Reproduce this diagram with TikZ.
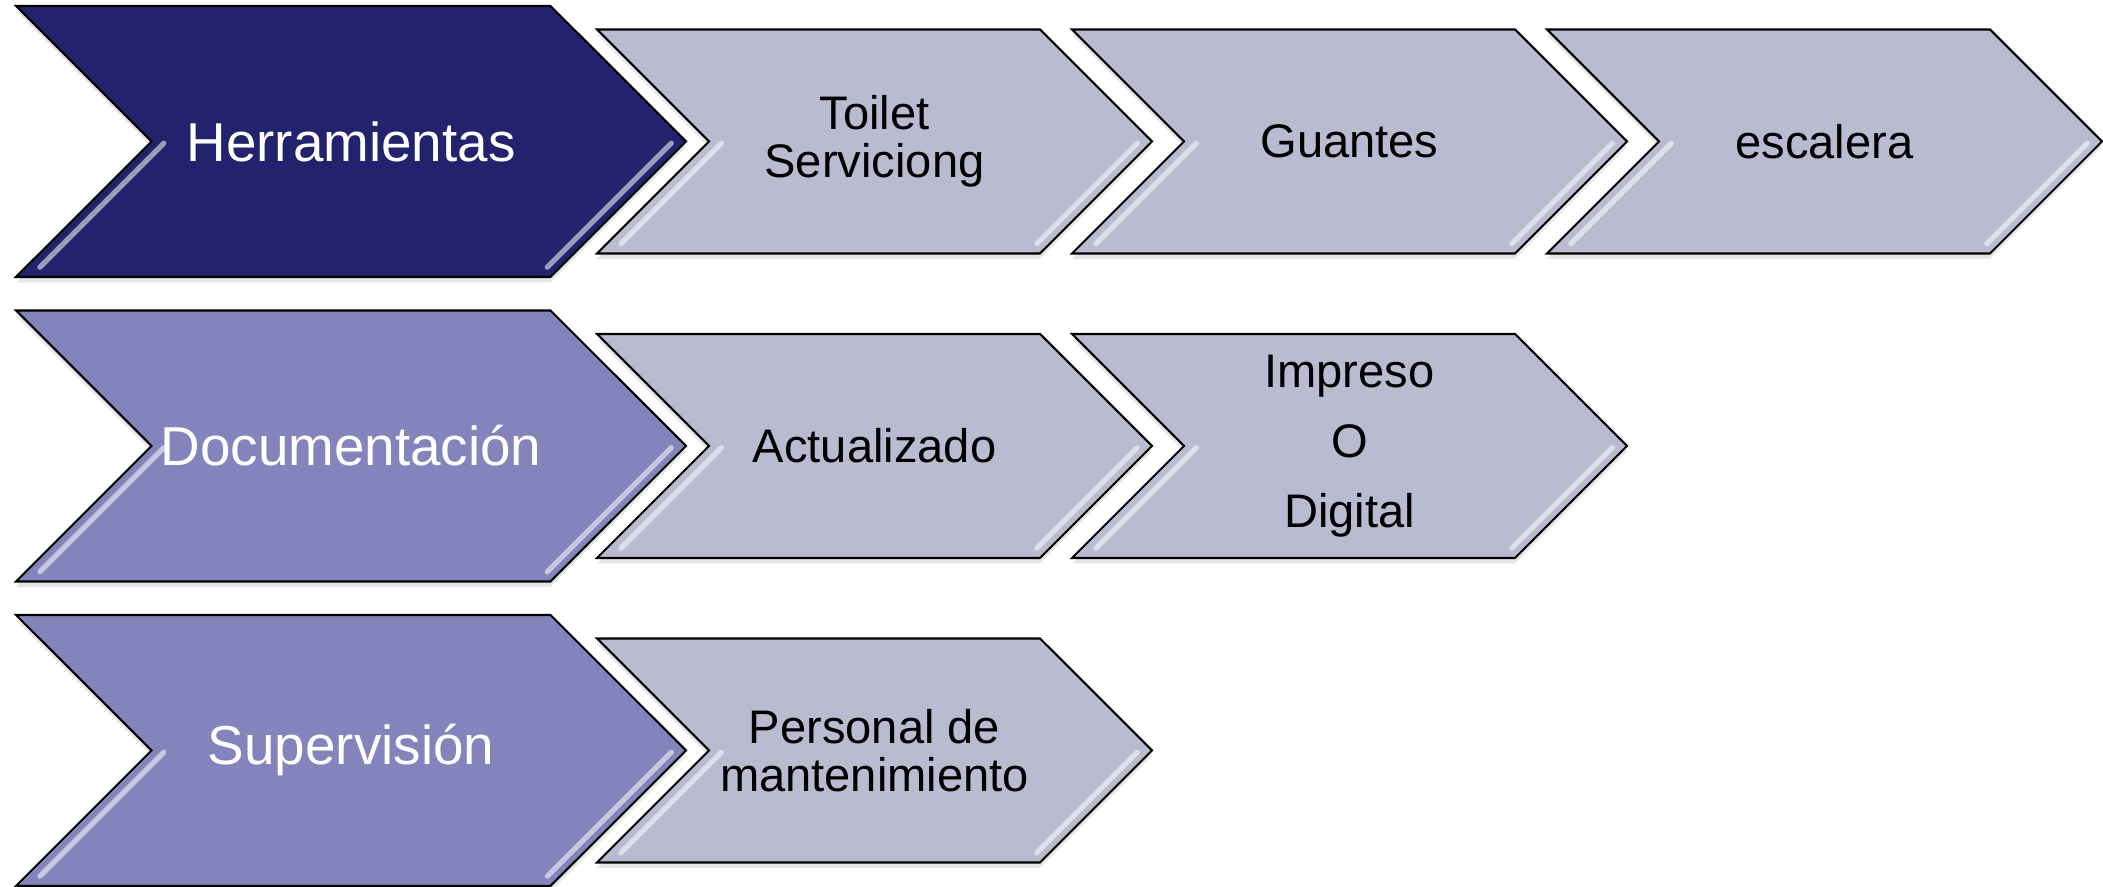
\documentclass[tikz,border=0pt]{standalone}
\usepackage{fontspec}
\setmainfont{Liberation Sans}
\usetikzlibrary{positioning}
\usetikzlibrary{calc}
\usetikzlibrary{shapes.symbols}
\usetikzlibrary{shadows}

\definecolor{Navy}{RGB}{35,34,108}
\definecolor{Lilac}{RGB}{132,132,188}
\definecolor{Mist}{RGB}{186,186,208}

\tikzset{
	shine/.style={draw=white, draw opacity=0.55, line width=1.5pt, line cap=round},
	chevron/.style={
		on grid,
		signal,
		signal from=west,
		signal to=east,
		draw,
		line width=0.6pt,
		inner sep=0pt,
		align=center,
		drop shadow={shadow xshift=0pt, shadow yshift=-1.5pt, opacity=0.2},
		path picture={
			\draw[shine] let \p1=(path picture bounding box.south west),
				\p2=(path picture bounding box.north east),
				\n1={0.5*(\y2-\y1)} in
				(\x1+6.8pt,\y1+2.8pt) -- (\x1+\n1+3.5pt,\y1+\n1-0.5pt)
				(\x2-\n1-0.9pt,\y1+2.8pt) -- (\x2-4.2pt,\y1+\n1-0.5pt);
		}
	},
	topic/.style={
		chevron,
		minimum width=6.70cm,
		minimum height=2.71cm,
		text=white,
		font=\fontsize{15.6}{18}\selectfont
	},
	item/.style={
		chevron,
		fill=Mist,
		minimum width=5.55cm,
		minimum height=2.24cm,
		font=\fontsize{13.4}{13.8}\selectfont
	}
}

\begin{document}
\begin{tikzpicture}

\useasboundingbox (0,0) rectangle (21.03,-8.87);

% first row
\node[topic, fill=Navy] (tools) at (3.51,-1.415) {Herramientas};

\node[item, right=5.235cm of tools] (toilet) {Toilet\\Serviciong};
\node[item, right=4.75cm of toilet] (gloves) {Guantes};
\node[item, right=4.75cm of gloves] (ladder) {escalera};

% second row
\node[topic, fill=Lilac, below=3.045cm of tools] (docs) {Documentación};

\node[item, right=5.235cm of docs] (updated) {Actualizado};
\node[
	item,
	right=4.75cm of updated,
	font=\fontsize{13.4}{19.9}\selectfont
] (format) {Impreso\\O\\Digital};

% third row
\node[topic, fill=Lilac, below=3.045cm of docs] (super) {Supervisión};

\node[item, right=5.235cm of super] (staff) {Personal de\\mantenimiento};

\end{tikzpicture}
\end{document}
